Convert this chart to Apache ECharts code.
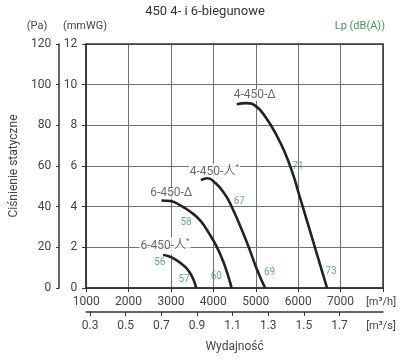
<!DOCTYPE html>
<html>
<head>
<meta charset="utf-8">
<script src="https://cdn.jsdelivr.net/npm/echarts@6/dist/echarts.min.js"></script>
<style>html,body{margin:0;padding:0;background:#fff}#c{width:410px;height:360px}</style>
</head>
<body>
<div id="c"></div>
<script>
// Flow in m3/h, static pressure in mmWG
const curve4D = [[4551,9.04],[4784,9.09],[5016,8.92],[5249,8.35],[5481,7.55],[5674,6.72],[5867,5.66],[6023,4.58],[6216,3.24],[6412,1.88],[6565,0.81],[6681,0.0]];
const curve4Y = [[3707,5.31],[3860,5.40],[4053,5.15],[4233,4.72],[4395,4.17],[4784,2.28],[5016,0.97],[5220,0.0]];
const curve6D = [[2775,4.30],[2977,4.28],[3209,4.08],[3465,3.74],[3698,3.30],[3907,2.66],[4081,2.02],[4233,1.30],[4372,0.44],[4430,0.0]];
const curve6Y = [[2814,1.62],[2930,1.57],[3070,1.45],[3256,1.18],[3419,0.84],[3535,0.39],[3593,0.0]];

const curveNames = ['4-450-Δ','4-450-人*','6-450-Δ','6-450-人*'];
const curveNamePos = [[4977,9.49],[4023,5.71],[3007,4.69],[2860,2.08]];

const lpValues = ['71','73','67','69','58','60','56','57'];
const lpPos = [[5995,6.0],[6774,0.80],[4612,4.25],[5326,0.75],[3356,3.23],[4070,0.59],[2737,1.24],[3310,0.44]];

const flowTicks = [1000,2000,3000,4000,5000,6000,7000];
const flowSTicks = [0.3,0.5,0.7,0.9,1.1,1.3,1.5,1.7];
const mmTicks = [0,2,4,6,8,10,12];
const paTicks = [0,20,40,60,80,100,120];

const FONT = 'Roboto';
const TXT = '#444';
const AX = '#333';
const GREEN = '#3d9b5c';

const chart = echarts.init(document.getElementById('c'), null, {renderer:'canvas'});

const curves = [curve4D, curve4Y, curve6D, curve6Y];

const series = curves.map(d => ({
  type:'line', data:d, xAxisIndex:0, yAxisIndex:0,
  smooth:true, showSymbol:false, symbol:'none',
  lineStyle:{color:'#222', width:2.6}, silent:true, z:4
}));

series.push({
  type:'scatter', xAxisIndex:0, yAxisIndex:0, symbolSize:0, silent:true, z:3,
  data: curveNamePos.map((p,i)=>({value:[p[0],p[1]], name:curveNames[i]})),
  label:{show:true, position:'inside',
    backgroundColor:'#fff', padding:[0,1,0,1],
    formatter:(p)=>{
      const n = p.name;
      if (n.endsWith('*')) return '{a|'+n.slice(0,-1)+'}{s|*}';
      return '{a|'+n+'}';
    },
    rich:{
      a:{fontFamily:FONT+', "Noto Sans CJK SC"', fontSize:12, color:TXT},
      s:{fontFamily:FONT, fontSize:8, color:TXT, padding:[0,0,9,0]}
    }
  }
});

series.push({
  type:'scatter', xAxisIndex:0, yAxisIndex:0, symbolSize:0, silent:true, z:5,
  data: lpPos.map((p,i)=>({value:[p[0],p[1]], name:lpValues[i]})),
  label:{show:true, position:'inside', formatter:'{b}', fontFamily:FONT, fontSize:10, color:GREEN}
});

chart.setOption({
  animation:false,
  backgroundColor:'#fff',
  textStyle:{fontFamily:FONT},
  grid:{left:82, top:44, width:301, height:244, show:true, borderColor:AX, borderWidth:1.5, backgroundColor:'transparent', z:2},
  xAxis:[
    {type:'value', min:1000, max:8000, interval:1000, position:'bottom',
     axisLine:{show:true, onZero:false, lineStyle:{color:AX, width:1.5}},
     axisTick:{show:true, length:4, lineStyle:{color:AX}},
     axisLabel:{show:true, margin:8, fontSize:12, color:TXT, fontFamily:FONT,
       customValues:flowTicks, formatter:(v)=>String(v)},
     splitLine:{show:true, lineStyle:{color:'#707070', width:1}}
    },
    {type:'value', min:0.278, max:1.944, position:'bottom', offset:24,
     axisLine:{show:true, onZero:false, lineStyle:{color:AX, width:1.5}},
     axisTick:{show:true, length:4, lineStyle:{color:AX}, customValues:flowSTicks},
     axisLabel:{show:true, margin:8, fontSize:12, color:TXT, fontFamily:FONT, customValues:flowSTicks,
       formatter:(v)=>v.toFixed(1)},
     splitLine:{show:false},
     name:'Wydajność', nameLocation:'middle', nameGap:29,
     nameTextStyle:{fontSize:12, color:TXT, fontFamily:FONT}
    }
  ],
  yAxis:[
    {type:'value', min:0, max:12, interval:2, position:'left',
     axisLine:{show:true, onZero:false, lineStyle:{color:AX, width:1.5}},
     axisTick:{show:true, length:4, lineStyle:{color:AX}},
     axisLabel:{show:true, margin:9, fontSize:12, color:TXT, fontFamily:FONT, customValues:mmTicks},
     splitLine:{show:true, lineStyle:{color:'#707070', width:1}}
    },
    {type:'value', min:0, max:120, interval:20, position:'left', offset:27,
     axisLine:{show:true, onZero:false, lineStyle:{color:AX, width:1.5}},
     axisTick:{show:true, length:3, lineStyle:{color:AX}},
     axisLabel:{show:true, margin:8, fontSize:12, color:TXT, fontFamily:FONT, customValues:paTicks},
     splitLine:{show:false},
     name:'Ciśnienie statyczne', nameLocation:'middle', nameGap:30,
     nameTextStyle:{fontSize:12, color:TXT, fontFamily:FONT}
    }
  ],
  graphic:[
    {type:'text', left:'center', top:5, style:{text:'450 4- i 6-biegunowe', font:'13px '+FONT, fill:'#333'}},
    {type:'text', x:37, y:26, style:{text:'(Pa)', font:'11px '+FONT, fill:TXT, align:'center', verticalAlign:'middle'}},
    {type:'text', x:85, y:26, style:{text:'(mmWG)', font:'11px '+FONT, fill:TXT, align:'center', verticalAlign:'middle'}},
    {type:'text', x:385, y:26, style:{text:'Lp (dB(A))', font:'11px '+FONT, fill:GREEN, align:'right', verticalAlign:'middle'}},
    {type:'text', x:381, y:302, style:{text:'[m³/h]', font:'11px '+FONT, fill:TXT, align:'center', verticalAlign:'middle'}},
    {type:'text', x:381, y:326, style:{text:'[m³/s]', font:'11px '+FONT, fill:TXT, align:'center', verticalAlign:'middle'}}
  ],
  series:series
});
</script>
</body>
</html>
